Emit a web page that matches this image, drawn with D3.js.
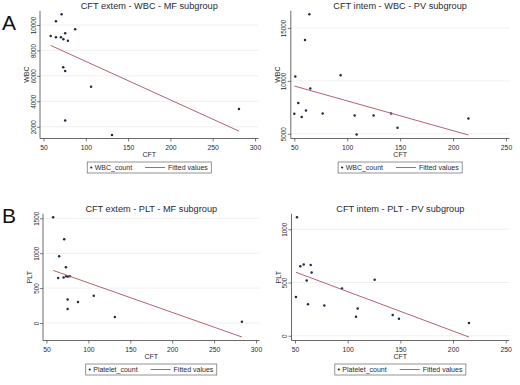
<!DOCTYPE html>
<html>
<head>
<meta charset="utf-8">
<script src="https://cdn.jsdelivr.net/npm/d3@7"></script>
<style>
	body { margin: 0; background: #fff; }
	svg { font-family: "Liberation Sans", Arial, sans-serif; }
</style>
</head>
<body>
<div id="container"></div>
<script>

// values (CFT in seconds, counts per panel)
var wbcMfCft = [58.5, 64.7, 70.6, 73.5, 75.6, 78.8, 87.4, 64.7, 71.4, 73.3, 75.6, 106.2, 75.6, 131, 281];
var wbcMfVal = [9140, 9035, 9035, 8880, 9350, 8770, 9660, 10290, 10840, 6680, 6390, 5140, 2490, 1350, 3390];

var wbcPvCft = [64.2, 60.1, 50.9, 93.8, 65.1, 53.8, 61, 50, 57, 76.8, 107, 124.9, 141.5, 108.9, 147.5, 214.5];
var wbcPvVal = [16290, 13870, 10410, 10540, 9270, 7900, 7200, 6890, 6600, 6920, 6730, 6730, 6920, 4930, 5570, 6440];

var pltMfCft = [57.9, 71.1, 65.1, 73.2, 63.9, 70.4, 73.5, 75.6, 78, 75.2, 87.6, 106.4, 75.2, 131.6, 283.2];
var pltMfVal = [1514, 1200, 957, 800, 643, 651, 671, 666, 671, 337, 300, 390, 200, 86, 19];

var pltPvCft = [51.9, 55, 58.3, 64.9, 65.8, 61.1, 50.9, 62.3, 77.8, 94.6, 125.6, 109.5, 107.9, 142.7, 148.7, 215.1];
var pltPvVal = [1112, 653, 668, 665, 593, 518, 365, 297, 284, 443, 525, 256, 178, 194, 159, 119];

// tick labels
var xTicksMf = [50, 100, 150, 200, 250, 300];
var xTicksPv = [50, 100, 150, 200, 250];
var wbcMfTicks = [2000, 4000, 6000, 8000, 10000];
var wbcPvTicks = [5000, 10000, 15000];
var pltMfTicks = [0, 500, 1000, 1500];
var pltPvTicks = [0, 500, 1000];

var titles = ["CFT extem - WBC - MF subgroup", "CFT intem - WBC - PV subgroup",
	"CFT extem - PLT - MF subgroup", "CFT intem - PLT - PV subgroup"];

var dotColor = "#1c2a4a",
	fitColor = "#b4636f",
	gridColor = "#ececec",
	axisColor = "#444",
	textColor = "#2a2a33";

var svg = d3.select("#container").append("svg")
	.attr("width", 520)
	.attr("height", 385);

// the panel letters
svg.append("text").attr("x", 2).attr("y", 30).style("font-size", "21px").style("fill", "#111").text("A");
svg.append("text").attr("x", 2).attr("y", 223).style("font-size", "21px").style("fill", "#111").text("B");

// least squares line, like Stata's lfit
function linFit(xs, ys) {
	var mx = d3.mean(xs), my = d3.mean(ys);
	var sxy = 0, sxx = 0;
	xs.forEach(function(v, i) {
		sxy += (v - mx) * (ys[i] - my);
		sxx += (v - mx) * (v - mx);
	});
	var b = sxy / sxx;
	return {a: my - b * mx, b: b};
}

var panels = [
	{title: titles[0], cft: wbcMfCft, val: wbcMfVal, xTicks: xTicksMf, yTicks: wbcMfTicks,
		yLabel: "WBC", series: "WBC_count", left: 43.5, right: 255, top: 14.3, bottom: 135, titleY: 9, legendY: 162},
	{title: titles[1], cft: wbcPvCft, val: wbcPvVal, xTicks: xTicksPv, yTicks: wbcPvTicks,
		yLabel: "WBC", series: "WBC_count", left: 294.3, right: 506, top: 14.3, bottom: 135, titleY: 9, legendY: 162},
	{title: titles[2], cft: pltMfCft, val: pltMfVal, xTicks: xTicksMf, yTicks: pltMfTicks,
		yLabel: "PLT", series: "Platelet_count", left: 46.5, right: 256, top: 217.3, bottom: 337, titleY: 211.5, legendY: 364},
	{title: titles[3], cft: pltPvCft, val: pltPvVal, xTicks: xTicksPv, yTicks: pltPvTicks,
		yLabel: "PLT", series: "Platelet_count", left: 295, right: 505.7, top: 217.3, bottom: 337, titleY: 211.5, legendY: 364}
];

panels.forEach(drawPanel);

function drawPanel(p) {
	var pad = 3.5;
	var fl = p.left - pad, fr = p.right + pad, fb = p.bottom + pad, ft = p.top - pad;

	var fit = linFit(p.cft, p.val);
	var cMin = d3.min(p.cft), cMax = d3.max(p.cft);
	var fitPts = [[cMin, fit.a + fit.b * cMin], [cMax, fit.a + fit.b * cMax]];

	var x = d3.scaleLinear().domain(d3.extent(p.cft.concat(p.xTicks))).range([p.left, p.right]);
	var y = d3.scaleLinear()
		.domain(d3.extent(p.val.concat(p.yTicks, fitPts.map(function(d) { return d[1]; }))))
		.range([p.bottom, p.top]);

	var g = svg.append("g");

	// horizontal grid
	g.selectAll(".grid")
		.data(p.yTicks).enter()
		.append("line")
			.attr("x1", fl).attr("x2", fr)
			.attr("y1", function(d) { return y(d); })
			.attr("y2", function(d) { return y(d); })
			.style("stroke", gridColor)
			.style("stroke-width", 0.8);

	// x axis
	var xa = g.append("g")
		.attr("transform", "translate(0," + fb + ")")
		.call(d3.axisBottom(x).tickValues(p.xTicks).tickFormat(d3.format("d")).tickSize(3).tickSizeOuter(0));
	xa.select(".domain").remove();
	xa.append("line").attr("x1", fl).attr("x2", fr).style("stroke", axisColor).style("stroke-width", 0.8);
	xa.selectAll(".tick line").style("stroke", axisColor).style("stroke-width", 0.7);
	xa.selectAll(".tick text").attr("y", 11.5).attr("dy", 0)
		.style("font-size", "6.8px").style("fill", textColor).style("font-family", "Liberation Sans, Arial, sans-serif");

	g.append("text")
		.attr("x", (fl + fr) / 2)
		.attr("y", fb + 18)
		.style("text-anchor", "middle")
		.style("font-size", "7px")
		.style("fill", textColor)
		.text("CFT");

	// y axis, labels turned like Stata does
	var ya = g.append("g")
		.attr("transform", "translate(" + fl + ",0)")
		.call(d3.axisLeft(y).tickValues(p.yTicks).tickFormat(d3.format("d")).tickSize(3).tickSizeOuter(0));
	ya.select(".domain").remove();
	ya.append("line").attr("y1", ft).attr("y2", fb).style("stroke", axisColor).style("stroke-width", 0.8);
	ya.selectAll(".tick line").style("stroke", axisColor).style("stroke-width", 0.7);
	ya.selectAll(".tick text")
		.attr("x", 0).attr("y", 0).attr("dy", 0)
		.attr("transform", "translate(-4.5,0) rotate(-90)")
		.style("text-anchor", "middle")
		.style("font-size", "6.3px").style("fill", textColor).style("font-family", "Liberation Sans, Arial, sans-serif");

	g.append("text")
		.attr("transform", "translate(" + (fl - 11) + "," + ((ft + fb) / 2) + ") rotate(-90)")
		.style("text-anchor", "middle")
		.style("font-size", "7px")
		.style("fill", textColor)
		.text(p.yLabel);

	// title
	g.append("text")
		.attr("x", (fl + fr) / 2)
		.attr("y", p.titleY)
		.style("text-anchor", "middle")
		.style("font-size", "9.2px")
		.style("fill", textColor)
		.text(p.title);

	// dots
	g.selectAll(".dot")
		.data(p.cft).enter()
		.append("circle")
			.attr("r", 1.25)
			.attr("cx", function(d) { return x(d); })
			.attr("cy", function(d, i) { return y(p.val[i]); })
			.style("fill", dotColor);

	// fitted values
	g.append("path")
		.datum(fitPts)
		.attr("d", d3.line().x(function(d) { return x(d[0]); }).y(function(d) { return y(d[1]); }))
		.style("fill", "none")
		.style("stroke", fitColor)
		.style("stroke-width", 1);

	// legend box, centred under the plot
	var leg = g.append("g");
	var box = leg.append("rect");
	leg.append("circle").attr("cx", 4).attr("cy", 5.5).attr("r", 1.1).style("fill", dotColor);
	var t1 = leg.append("text").attr("x", 7.5).attr("y", 8).style("font-size", "7px").style("fill", textColor).text(p.series);
	var w1 = t1.node().getComputedTextLength();
	var lx = 7.5 + w1 + 13;
	leg.append("line").attr("x1", lx).attr("x2", lx + 20).attr("y1", 5.5).attr("y2", 5.5)
		.style("stroke", fitColor).style("stroke-width", 1);
	var t2 = leg.append("text").attr("x", lx + 23).attr("y", 8).style("font-size", "7px").style("fill", textColor).text("Fitted values");
	var total = lx + 23 + t2.node().getComputedTextLength() + 3.5;
	box.attr("width", total).attr("height", 11)
		.style("fill", "#fff").style("stroke", "#666").style("stroke-width", 0.7);
	leg.attr("transform", "translate(" + ((fl + fr) / 2 - total / 2) + "," + p.legendY + ")");
}

</script>
</body>
</html>
